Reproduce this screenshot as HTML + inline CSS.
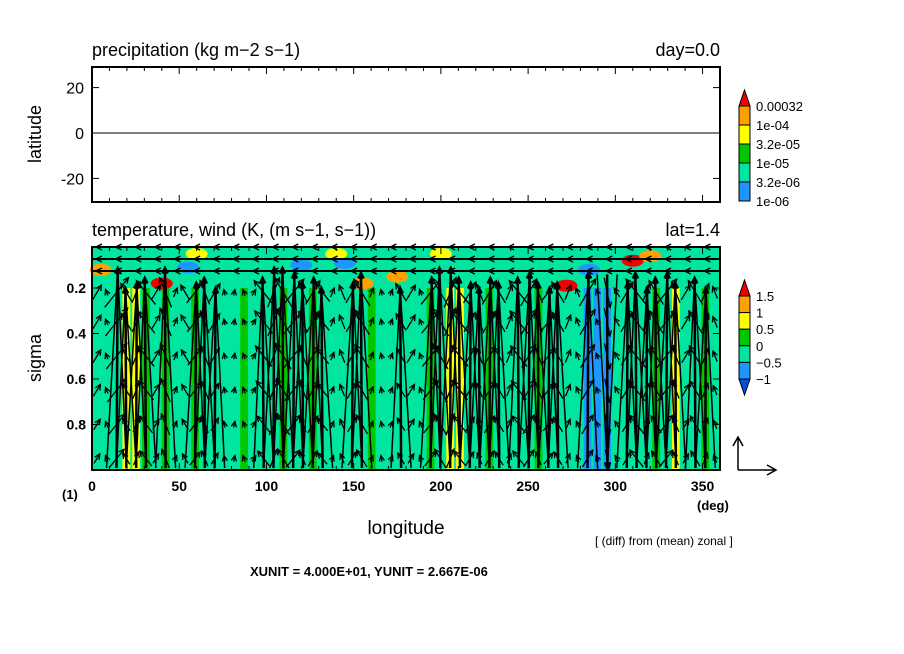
<!DOCTYPE html>
<html><head><meta charset="utf-8"><style>
body{margin:0;background:#fff;width:904px;height:654px;overflow:hidden}
svg{display:block}
text{font-family:"Liberation Sans",sans-serif;fill:#000}
</style></head><body>
<svg id="chart" width="904" height="654" viewBox="0 0 904 654">
<g id="temp-field"></g>
<g id="blobs"></g>
<g id="arrows"></g>
<g>
<rect x="92" y="67" width="628" height="135" fill="none" stroke="#000" stroke-width="2"/>
<line x1="92" y1="133" x2="720" y2="133" stroke="#000" stroke-width="1"/>
</g>
<rect x="92" y="247" width="628" height="223" fill="none" stroke="#000" stroke-width="2"/>
<g id="ticks"></g>
<text x="92" y="56" font-size="18">precipitation (kg m−2 s−1)</text>
<text x="720" y="56" font-size="18" text-anchor="end">day=0.0</text>
<text x="92" y="236" font-size="18">temperature, wind (K, (m s−1, s−1))</text>
<text x="720" y="236" font-size="18" text-anchor="end">lat=1.4</text>
<text transform="translate(41,134) rotate(-90)" font-size="18" text-anchor="middle">latitude</text>
<text transform="translate(41,358) rotate(-90)" font-size="18" text-anchor="middle">sigma</text>
<text x="406" y="534" font-size="19" text-anchor="middle">longitude</text>
<text x="62" y="499" font-size="13" font-weight="bold">(1)</text>
<text x="697" y="510" font-size="13" font-weight="bold">(deg)</text>
<text x="595" y="545" font-size="12">[ (diff) from (mean) zonal ]</text>
<text x="250" y="576" font-size="13" font-weight="bold">XUNIT = 4.000E+01, YUNIT = 2.667E-06</text>
<g id="cbar1"></g>
<g id="cbar2"></g>
<g stroke="#000" stroke-width="1.5" fill="none">
<path d="M738 470V437M733 446L738 437L743 446M738 470H776M767 465L776 470L767 475"/>
</g>
</svg>
<script>
const lons=[0,5.625,11.25,16.875,22.5,28.125,33.75,39.375,45,50.625,56.25,61.875,67.5,73.125,78.75,84.375,90,95.625,101.25,106.875,112.5,118.125,123.75,129.375,135,140.625,146.25,151.875,157.5,163.125,168.75,174.375,180,185.625,191.25,196.875,202.5,208.125,213.75,219.375,225,230.625,236.25,241.875,247.5,253.125,258.75,264.375,270,275.625,281.25,286.875,292.5,298.125,303.75,309.375,315,320.625,326.25,331.875,337.5,343.125,348.75,354.375];
const tempCat=[1,1,1,3,3,2,1,2,1,1,2,1,1,1,1,2,1,1,1,2,1,1,2,1,1,1,1,1,2,1,1,1,1,1,2,1,3,3,1,1,2,1,1,1,1,2,1,1,1,1,0,0,0,1,1,1,1,2,1,3,1,1,2,1];
const wVals=[0.5,0.2,1,0.6,0.7,0.8,0.5,1,0.3,0.5,0.7,0.8,0.6,0.1,0.1,0.1,0.2,0.8,1,1,0.9,0.7,0.8,0.6,0.3,0.5,0.7,0.9,0.3,0.1,0.2,0.6,0.5,0.2,0.8,1,1,0.8,0.7,0.6,0.8,0.7,0.5,0.8,0.9,0.7,0.6,0.7,0.5,0.3,0.9,0.2,-1,0.3,0.7,0.9,0.6,0.8,0.9,0.7,0.5,0.8,0.6,0.4];
const uVals=[0.3,-0.2,0.4,-0.3,0.2,-0.4,0.3,-0.2,0.2,-0.3,0.4,-0.2,0.3,-0.1,0.1,-0.2,0.3,-0.4,0.2,-0.3,0.4,-0.2,0.3,-0.4,0.2,-0.2,0.3,-0.3,0.2,-0.1,0.2,-0.3,0.3,-0.2,0.4,-0.3,0.2,-0.4,0.3,-0.2,0.3,-0.3,0.2,-0.4,0.3,-0.2,0.4,-0.3,0.2,-0.2,0.3,-0.2,0.1,-0.3,0.3,-0.4,0.2,-0.3,0.4,-0.2,0.3,-0.3,0.2,-0.2];
const blobLon=[5,40,55,120,145,155,175,200,272,285,310,320,60,140];
const blobSig=[0.12,0.18,0.11,0.1,0.09,0.18,0.15,0.05,0.19,0.12,0.08,0.06,0.05,0.05];
const blobCat=[4,5,0,0,0,4,4,3,5,0,5,4,3,3];
const cats=["#1e96ff","#00e6a0","#00c800","#ffff00","#ffa000","#f00000"];
const precipTicks=[20,0,-20];
const sigmaTicks=[0.2,0.4,0.6,0.8];
const lonTicks=[0,50,100,150,200,250,300,350];
const cb1Labels=["0.00032","1e-04","3.2e-05","1e-05","3.2e-06","1e-06"];
const cb2Labels=["1.5","1","0.5","0","−0.5","−1"];
const X=l=>92+l*628/360;
const YS=s=>242.5+s*227.5;
const YL=l=>133-l*2.27;
const NS="http://www.w3.org/2000/svg";
function mk(tag,attrs,parent){const e=document.createElementNS(NS,tag);for(const k in attrs)e.setAttribute(k,attrs[k]);parent.appendChild(e);return e;}
const tf=document.getElementById('temp-field');
const bg=mk('rect',{x:92,y:247,width:628,height:223,fill:cats[1]},tf);


const dx=628/64;
lons.forEach((l,i)=>{
  const r=mk('rect',{x:X(l)+1,y:YS(0.2),width:dx-2,height:470-YS(0.2),fill:cats[tempCat[i]]},tf);
  
  
});
const bl=document.getElementById('blobs');
blobLon.forEach((l,i)=>{
  const e=mk('ellipse',{cx:X(l),cy:YS(blobSig[i]),rx:11,ry:6,fill:cats[blobCat[i]]},bl);
  
  
});
const ar=document.getElementById('arrows');
function arrow(x1,y1,x2,y2,w){
  const g=mk('path',{},ar);
  const a=Math.atan2(y2-y1,x2-x1),h=6;
  const d=`M${x1} ${y1}L${x2} ${y2}M${x2-h*Math.cos(a-0.45)} ${y2-h*Math.sin(a-0.45)}L${x2} ${y2}L${x2-h*Math.cos(a+0.45)} ${y2-h*Math.sin(a+0.45)}`;
  g.setAttribute('d',d);g.setAttribute('stroke','#000');g.setAttribute('stroke-width',w);g.setAttribute('fill','none');
  
  
}
const levels=[0.95,0.8,0.65,0.5,0.35,0.22];
lons.forEach((l,i)=>{
  const x=X(l)+dx/2,w=wVals[i],u=uVals[i];
  if(Math.abs(w)>=0.6){
    const apexY=w>0?YS(0.2)-(w-0.6)*50:468;
    const baseY=w>0?468:YS(0.14);
    [-10,0,10].forEach(o=>arrow(x+o,baseY,x+u*3,apexY,o===0?2.5:1.5));
  }
  levels.forEach(s=>{
    const y=YS(s),len=Math.max(6,Math.abs(w)*30*(1.1-s*0.5));
    arrow(x-u*len,y+Math.sign(w)*len/2,x+u*len,y-Math.sign(w)*len/2,1.3);
  });
});
[247,259,271].forEach((y,j)=>{
  const ln=mk('line',{x1:92,y1:y,x2:720,y2:y,stroke:'#000','stroke-width':2},ar);
  
  
  for(let k=0;k<lons.length;k+=2){const x=X(lons[k])+4;
    const p=mk('path',{d:`M${x+6} ${y-3}L${x} ${y}L${x+6} ${y+3}`,stroke:'#000','stroke-width':1.5,fill:'none'},ar);
    
    }
});
const tk=document.getElementById('ticks');
precipTicks.forEach(v=>{const y=YL(v);
  mk('line',{x1:92,y1:y,x2:99,y2:y,stroke:'#000'},tk);mk('line',{x1:713,y1:y,x2:720,y2:y,stroke:'#000'},tk);
  const t=mk('text',{x:84,y:y+6,'font-size':16,'text-anchor':'end'},tk);t.textContent=v;
  
  });
sigmaTicks.forEach(v=>{const y=YS(v);
  mk('line',{x1:92,y1:y,x2:99,y2:y,stroke:'#000'},tk);mk('line',{x1:713,y1:y,x2:720,y2:y,stroke:'#000'},tk);
  const t=mk('text',{x:86,y:y+5,'font-size':14,'font-weight':'bold','text-anchor':'end'},tk);t.textContent=v;
  
  });
for(let l=0;l<=360;l+=10){const x=X(l),L=l%50==0?7:4;
  [67,202-L,247,470-L].forEach(y=>mk('line',{x1:x,y1:y,x2:x,y2:y+L,stroke:'#000'},tk));}
lonTicks.forEach(v=>{const t=mk('text',{x:X(v),y:491,'font-size':14,'font-weight':'bold','text-anchor':'middle'},tk);t.textContent=v;
  
  });
function cbar(id,top,step,labels,cols,topTri,botTri){
  const g=document.getElementById(id);
  mk('path',{d:`M739 ${top}L744.5 ${top-16}L750 ${top}Z`,fill:topTri,stroke:'#000'},g);
  cols.forEach((c,k)=>mk('rect',{x:739,y:top+k*step,width:11,height:step,fill:c,stroke:'#000'},g));
  const bot=top+cols.length*step;
  if(botTri)mk('path',{d:`M739 ${bot}L744.5 ${bot+16}L750 ${bot}Z`,fill:botTri,stroke:'#000'},g);
  labels.forEach((s,k)=>{const t=mk('text',{x:756,y:top+k*step+5,'font-size':13},g);t.textContent=s;
    
    });
}
cbar('cbar1',106,19,cb1Labels,[cats[4],cats[3],cats[2],cats[1],cats[0]],cats[5],null);
cbar('cbar2',296,16.6,cb2Labels,[cats[4],cats[3],cats[2],cats[1],cats[0]],cats[5],'#0050e0');
</script>
</body></html>
